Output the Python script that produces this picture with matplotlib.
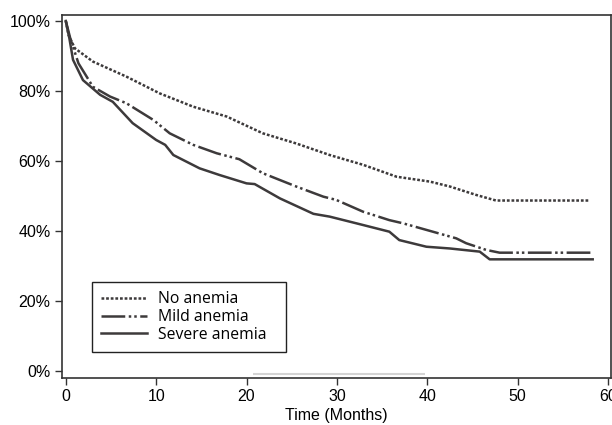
import matplotlib.pyplot as plt

# survival curves (months, percent)
no_x = [0, 0.3, 1.0, 3.0, 6.7, 10.4, 14.1, 17.8, 21.8, 25.5, 29.2, 32.9, 36.6,
        40.3, 42.5, 45.4, 47.6, 58.0]
no_y = [100, 96, 92.2, 88.4, 84.1, 79.3, 75.5, 72.7, 67.9, 65.0, 61.7, 58.9, 55.5,
        54.1, 52.7, 50.3, 48.7, 48.7]

mild_x = [0, 0.5, 1.4, 3.0, 4.9, 6.7, 9.7, 11.5, 14.1, 16.7, 19.2, 21.8, 25.5,
          28.5, 29.9, 32.9, 35.8, 37.3, 40.6, 43.2, 44.3, 46.5, 48.0, 58.1]
mild_y = [100, 95, 87.9, 81.2, 78.4, 76.5, 71.7, 67.9, 64.6, 62.2, 60.5, 56.5, 52.7,
          49.8, 48.9, 45.5, 43.1, 42.2, 39.8, 37.9, 36.5, 34.6, 33.8, 33.8]

sev_x = [0, 0.4, 0.8, 1.9, 3.8, 5.2, 7.4, 10.0, 11.0, 11.9, 14.8, 17.0, 20.0,
         20.9, 23.7, 27.4, 29.2, 32.9, 35.8, 36.9, 39.9, 42.5, 45.8, 46.9, 58.3]
sev_y = [100, 95, 88.9, 83.1, 78.9, 76.9, 70.8, 66.0, 64.6, 61.7, 57.9, 56.0, 53.6,
         53.4, 49.3, 44.9, 44.1, 41.7, 39.8, 37.4, 35.5, 35.0, 34.1, 31.9, 31.9]

labels = ['No anemia', 'Mild anemia', 'Severe anemia']
x_ticks = [0, 10, 20, 30, 40, 50, 60]
y_ticks = [0, 20, 40, 60, 80, 100]

col = '#3d3a3b'
lw = 1.8
font_list = ['Liberation Sans', 'DejaVu Sans']

fig = plt.figure(figsize=(6.12, 4.25), dpi=100)
ax = fig.add_axes([0.101, 0.1106, 0.897, 0.8541])

ax.plot(no_x, no_y, color=col, lw=lw, linestyle=(0, (1.1, 0.75)), label=labels[0])
ax.plot(mild_x, mild_y, color=col, lw=lw,
        linestyle=(0, (9.5, 1.4, 1.0, 1.2, 1.0, 1.4)), label=labels[1])
ax.plot(sev_x, sev_y, color=col, lw=lw, label=labels[2])

# faint grey bar under the zero line, as in the source image
ax.plot([20.7, 39.7], [-0.9, -0.9], color='#d4d4d4', lw=1.5, solid_capstyle='butt')

ax.set_xlim(-0.44, 60.3)
ax.set_ylim(-2.0, 101.7)
ax.set_xticks(x_ticks)
ax.set_yticks(y_ticks)
ax.set_yticklabels([f'{v}%' for v in y_ticks])

for t in ax.get_xticklabels() + ax.get_yticklabels():
    t.set_fontfamily(font_list)
    t.set_fontsize(11.5)
ax.tick_params(direction='out', length=5, width=1, color='#333333', pad=3)

for s in ax.spines.values():
    s.set_color('#333333')
    s.set_linewidth(1.2)

ax.set_xlabel('Time (Months)', fontsize=11.5, family=font_list, labelpad=3)

leg = ax.legend(loc='lower left', bbox_to_anchor=(0.0546, 0.0716, 0.3534, 0.2149),
                mode='expand', fancybox=False, edgecolor='#222222', framealpha=1,
                prop={'family': ['Open Sans', 'DejaVu Sans'], 'size': 11.3},
                handlelength=2.9, handletextpad=0.75, labelspacing=0.1,
                borderpad=0.6, borderaxespad=0)
leg.get_frame().set_linewidth(1.0)

fig.savefig('out.png', dpi=100)
